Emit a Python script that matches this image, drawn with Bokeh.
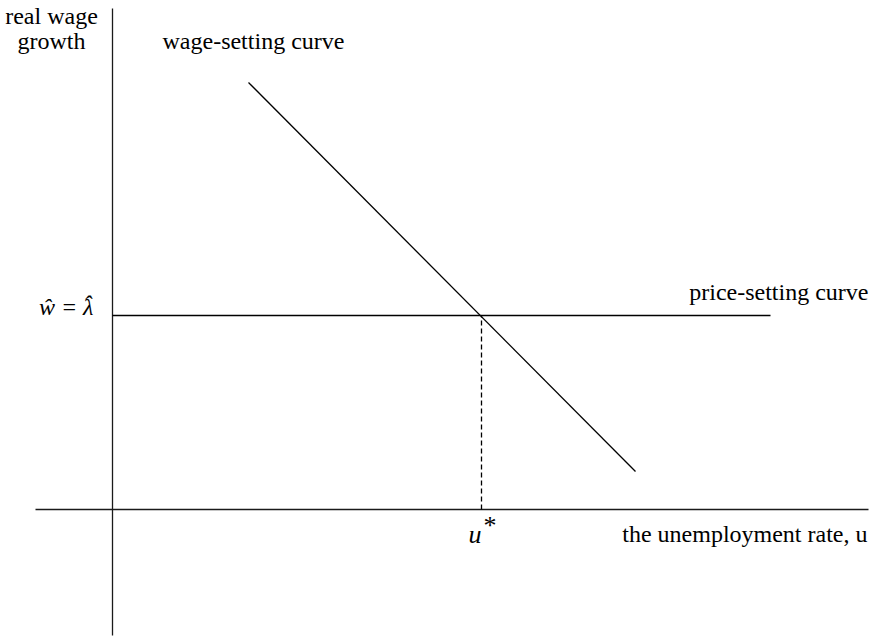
from bokeh.plotting import figure
from bokeh.models import Range1d
from bokeh.core.properties import value
from bokeh.embed import file_html
from bokeh.resources import INLINE

# ---- data (diagram units: u = unemployment, g = real wage growth) ----
y_axis_u = [0, 0]
y_axis_g = [501, -126]
x_axis_u = [-77, 756]
x_axis_g = [0, 0]

price_level = 194            # w-hat = lambda-hat
price_u = [0, 658]

wage_u = [136, 523]          # wage-setting curve end points
wage_g = [427, 38]

u_star = 369

FONT = value("Liberation Serif")

p = figure(width=872, height=637, output_backend="svg", toolbar_location=None,
           x_axis_type=None, y_axis_type=None,
           x_range=Range1d(-112, 760), y_range=Range1d(-128, 509),
           min_border=0)
p.grid.visible = False
p.outline_line_color = None
p.background_fill_color = "white"
p.border_fill_color = "white"

LW = 1.3
AX = "#1a1a1a"
p.line(y_axis_u, y_axis_g, line_color=AX, line_width=LW)
p.line(x_axis_u, x_axis_g, line_color=AX, line_width=LW)
p.line(price_u, [price_level, price_level], line_color="black", line_width=LW)
p.line(wage_u, wage_g, line_color="black", line_width=LW)
p.line([u_star, u_star], [0, price_level], line_color="black", line_width=LW,
       line_dash="5 3")

def txt(x, y, s, align="left", style="normal", size="24px"):
    p.text(x=[x], y=[y], text=[s], text_font=FONT, text_font_size=size,
           text_align=align, text_baseline="alphabetic", text_color="black",
           text_font_style=style)

txt(-61, 494, "real wage", "center")
txt(-61, 469, "growth", "center")
txt(50, 469, "wage-setting curve")
# w-hat = lambda-hat
txt(-19, price_level + 9, "ŵ = λ", "right", "italic")
txt(-29, price_level + 12, "ˆ", "left", "italic")
txt(756, price_level + 24, "price-setting curve", "right")
txt(755, -24, "the unemployment rate, u", "right")
txt(u_star - 13, -25, "u", "left", "italic", "26px")
txt(u_star + 2, -16, "*", "left", "normal", "26px")

open("out.html", "w").write(file_html(p, INLINE))
